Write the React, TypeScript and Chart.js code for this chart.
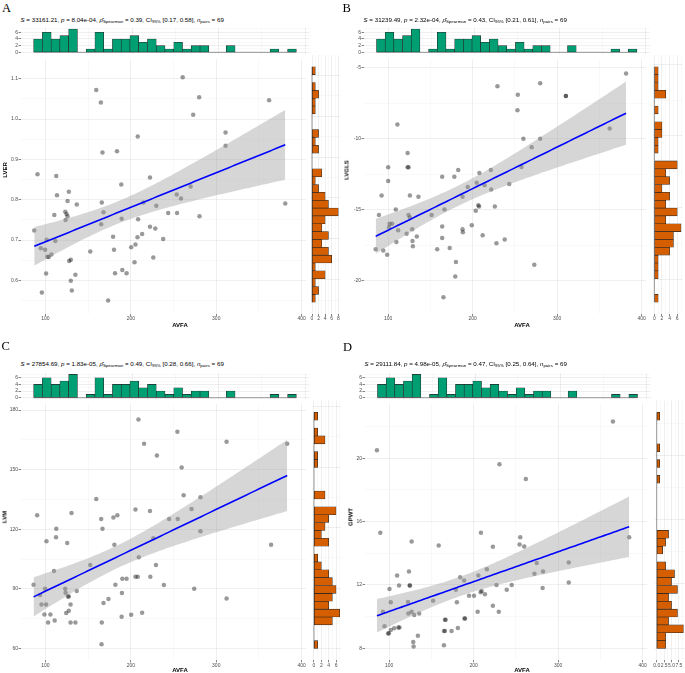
import React, { useEffect, useRef } from "react";
import { Chart, registerables } from "chart.js";
Chart.register(...registerables);

const FONT = "'Liberation Sans', Arial, sans-serif";

// ---------------- shared AVFA marginal histogram ----------------
const AVFA_BIN_START = 86.0;
const AVFA_BIN_WIDTH = 10.13;
const AVFA_COUNTS = [4, 6, 4, 5, 7, 0, 1, 6, 1, 4, 4, 5, 3, 4, 2, 1, 3, 1, 2, 2, 0, 0, 2, 0, 0, 0, 0, 1, 0, 1];
const AVFA_TICKS = [100, 200, 300, 400];
const AVFA_COUNT_TICKS = [0, 2, 4, 6];

// ---------------- Panel A: LVER ----------------
const A_AVFA = [86.9, 90.7, 94.6, 95.8, 99.6, 100.8, 101.5, 102.3, 103.9, 107.0, 110.4, 111.6, 112.7, 113.5, 123.2, 123.6, 124.7, 125.9, 125.9, 127.4, 127.8, 129.7, 129.7, 130.9, 135.1, 136.7, 152.5, 159.5, 164.9, 165.3, 166.0, 166.8, 168.0, 173.4, 179.2, 180.3, 181.5, 183.8, 188.8, 189.2, 190.0, 195.0, 200.4, 204.3, 205.4, 207.8, 208.1, 208.5, 213.2, 214.7, 222.4, 222.4, 226.3, 228.6, 229.8, 237.9, 243.7, 253.7, 254.1, 258.7, 260.7, 270.0, 273.0, 280.0, 280.4, 310.9, 310.9, 361.9, 380.8];
const A_LVER = [0.724, 0.863, 0.680, 0.570, 0.676, 0.617, 0.701, 0.659, 0.658, 0.664, 0.762, 0.698, 0.859, 0.811, 0.770, 0.750, 0.765, 0.797, 0.759, 0.820, 0.648, 0.651, 0.599, 0.575, 0.614, 0.788, 0.672, 1.072, 1.041, 0.739, 0.793, 0.917, 0.769, 0.550, 0.708, 0.676, 0.618, 0.920, 0.838, 0.753, 0.626, 0.618, 0.682, 0.645, 0.689, 0.707, 0.957, 0.752, 0.715, 0.793, 0.855, 0.733, 0.657, 0.729, 0.785, 0.703, 0.767, 0.813, 0.767, 0.803, 1.104, 0.833, 1.011, 1.054, 0.759, 0.967, 0.934, 1.047, 0.791];
const A_BIN_START = 0.5455;
const A_BIN_WIDTH = 0.01916;
const A_COUNTS = [1, 2, 1, 4, 1, 6, 5, 3, 5, 3, 4, 8, 5, 4, 2, 1, 3, 0, 0, 2, 1, 2, 0, 0, 1, 1, 2, 1, 0, 1];
const A_TICKS = [0.6, 0.7, 0.8, 0.9, 1.0, 1.1];
const A_COUNT_TICKS = [0, 2, 4, 6, 8];
const A_STATS = ["33161.21", "8.04e-04", "0.39", "[0.17, 0.58]", "69"];

// ---------------- Panel B: LVGLS ----------------
const B_AVFA = [85.2, 89.1, 92.2, 94.2, 98.8, 100.0, 100.0, 101.6, 101.0, 104.7, 109.0, 109.7, 110.9, 111.8, 121.8, 123.0, 123.0, 124.1, 124.1, 125.7, 125.7, 128.4, 128.8, 129.2, 133.9, 135.8, 151.4, 158.0, 163.9, 163.9, 163.9, 165.4, 166.6, 172.8, 178.3, 179.4, 180.2, 182.9, 188.0, 188.0, 188.4, 194.2, 198.9, 203.6, 204.7, 206.7, 207.5, 207.9, 211.8, 214.1, 221.5, 221.9, 226.2, 228.1, 229.3, 237.9, 243.3, 253.0, 253.4, 257.7, 260.0, 269.8, 272.9, 279.9, 279.9, 310.3, 310.3, 362.1, 381.5];
const B_LVGLS = [-17.80, -15.39, -14.00, -17.89, -18.19, -12.01, -12.99, -16.00, -16.25, -16.00, -15.00, -17.29, -9.00, -16.45, -16.71, -11.00, -12.01, -12.01, -15.39, -14.00, -15.56, -16.39, -17.22, -17.59, -16.90, -14.10, -15.39, -17.80, -12.69, -16.20, -17.01, -21.18, -15.00, -17.71, -12.69, -19.72, -18.70, -12.20, -14.10, -16.39, -16.60, -13.40, -16.11, -15.09, -13.10, -14.70, -14.79, -12.41, -16.81, -13.29, -12.20, -13.59, -14.79, -17.38, -6.30, -17.11, -13.19, -7.99, -6.90, -11.99, -10.00, -10.60, -18.89, -6.09, -10.00, -6.99, -6.99, -9.28, -5.39];
const B_BIN_START = -21.55;
const B_BIN_WIDTH = 0.5453;
const B_COUNTS = [1, 0, 0, 1, 1, 1, 4, 5, 5, 7, 3, 6, 3, 4, 2, 4, 3, 6, 0, 1, 1, 2, 2, 0, 1, 0, 3, 1, 1, 1];
const B_TICKS = [-20, -15, -10, -5];
const B_COUNT_TICKS = [0, 2, 4, 6];
const B_STATS = ["31239.49", "2.32e-04", "0.43", "[0.21, 0.61]", "69"];

// ---------------- Panel C: LVM ----------------
const C_AVFA = [86.1, 90.3, 93.8, 95.4, 98.8, 99.6, 100.8, 101.2, 103.1, 105.8, 110.0, 110.8, 112.4, 112.7, 123.2, 123.6, 124.3, 125.5, 126.3, 127.4, 127.4, 129.4, 129.4, 130.5, 135.1, 136.7, 152.5, 159.5, 165.3, 166.0, 165.7, 166.8, 168.0, 173.8, 179.6, 180.7, 181.9, 184.2, 189.2, 189.6, 190.0, 195.0, 200.4, 205.4, 205.4, 208.1, 208.9, 209.3, 213.2, 215.5, 222.4, 222.8, 226.3, 229.4, 230.5, 238.7, 244.8, 254.9, 254.5, 259.5, 261.8, 271.1, 274.2, 281.5, 281.5, 312.1, 312.1, 364.2, 383.1];
const C_LVM = [92.1, 127.1, 87.0, 82.2, 77.2, 90.1, 82.2, 114.0, 73.1, 77.2, 99.1, 74.1, 116.0, 120.3, 90.1, 88.1, 77.9, 113.1, 86.2, 86.2, 79.0, 82.2, 73.1, 128.2, 73.1, 89.0, 102.1, 135.2, 125.2, 73.1, 62.2, 120.3, 83.0, 85.0, 125.9, 112.2, 92.1, 127.1, 76.1, 88.0, 95.1, 95.1, 77.1, 130.0, 96.1, 96.1, 175.2, 106.0, 78.0, 163.1, 129.2, 96.1, 115.5, 102.1, 157.2, 92.0, 125.2, 125.2, 169.1, 151.1, 137.2, 130.2, 90.1, 136.2, 119.1, 164.1, 85.2, 112.2, 163.1];
const C_BIN_START = 60.0;
const C_BIN_WIDTH = 3.906;
const C_COUNTS = [1, 0, 0, 5, 7, 4, 5, 6, 5, 4, 2, 1, 0, 4, 2, 3, 4, 6, 0, 3, 0, 0, 0, 1, 1, 0, 3, 1, 0, 1];
const C_TICKS = [60, 90, 120, 150, 180];
const C_COUNT_TICKS = [0, 2, 4, 6];
const C_STATS = ["27854.69", "1.83e-05", "0.49", "[0.28, 0.66]", "69"];

// ---------------- Panel D: GPWT ----------------
const D_AVFA = [85.5, 89.5, 92.6, 94.5, 98.8, 99.6, 100.4, 101.9, 101.9, 105.9, 109.4, 110.9, 111.7, 112.1, 122.3, 122.7, 123.4, 124.2, 124.6, 126.6, 126.6, 128.5, 128.9, 129.7, 134.0, 135.5, 152.0, 158.6, 164.8, 164.8, 166.0, 166.0, 166.8, 173.8, 178.9, 180.1, 181.3, 184.0, 188.7, 189.1, 189.8, 194.5, 200.4, 204.7, 205.5, 208.2, 208.6, 209.4, 213.3, 215.6, 222.7, 222.7, 227.0, 229.7, 230.5, 239.1, 245.0, 254.3, 255.1, 259.8, 261.7, 271.9, 274.6, 281.6, 282.0, 312.5, 312.5, 364.8, 384.0];
const D_GPWT = [20.50, 15.30, 10.31, 9.39, 8.93, 8.95, 11.74, 9.16, 10.91, 9.27, 12.60, 9.31, 11.97, 9.31, 10.93, 10.20, 12.85, 11.97, 11.97, 14.74, 10.31, 8.40, 8.12, 10.10, 8.79, 10.20, 11.00, 14.49, 8.19, 9.10, 9.10, 9.81, 9.81, 9.10, 11.70, 10.91, 9.29, 12.49, 12.28, 9.89, 9.89, 11.31, 11.31, 10.31, 12.60, 11.54, 15.30, 11.62, 11.41, 12.99, 14.41, 10.68, 11.99, 10.31, 19.61, 11.70, 11.99, 14.55, 15.01, 14.43, 18.69, 12.70, 13.39, 11.81, 12.85, 13.41, 12.16, 22.31, 15.01];
const D_BIN_START = 7.98;
const D_BIN_WIDTH = 0.49;
const D_COUNTS = [3, 3, 9, 4, 7, 5, 4, 7, 5, 6, 3, 0, 2, 3, 4, 0, 0, 0, 0, 0, 0, 1, 0, 1, 0, 1, 0, 0, 0, 1];
const D_TICKS = [8, 12, 16, 20];
const D_COUNT_TICKS = [0, 2.5, 5, 7.5];
const D_STATS = ["29111.84", "4.98e-05", "0.47", "[0.25, 0.64]", "69"];

// ---------------- layout (page pixels) ----------------
type Rect = { l: number; r: number; t: number; b: number };
const LAYOUT: Record<string, any> = {
  A: { main: { l: 20.5, r: 309.5, t: 55, b: 314 }, top: { t: 27.8, b: 53.5 }, right: { l: 310.7, r: 339.6 }, letter: [2, 2.4], sub: [20.5, 20], xTitle: [180, 325], yTitle: [5.3, 170] },
  B: { main: { l: 363.5, r: 650, t: 55, b: 314 }, top: { t: 27.8, b: 53.5 }, right: { l: 653, r: 682.4 }, letter: [342.5, 2.4], sub: [363.5, 20], xTitle: [522, 324.5], yTitle: [346.5, 170] },
  C: { main: { l: 20.5, r: 309.5, t: 400.5, b: 660.3 }, top: { t: 373.2, b: 398.9 }, right: { l: 312.7, r: 341 }, letter: [1.5, 339.6], sub: [20.5, 364.3], xTitle: [180, 669.5], yTitle: [4.5, 516.7] },
  D: { main: { l: 364.5, r: 650.5, t: 400.5, b: 660.3 }, top: { t: 373.2, b: 398.9 }, right: { l: 655.4, r: 684.7 }, letter: [343, 340.6], sub: [364.5, 364.3], xTitle: [522, 669.5], yTitle: [350.5, 517] },
};

const PANELS = [
  { key: "A", xs: A_AVFA, ys: A_LVER, yTitle: "LVER", binStart: A_BIN_START, binWidth: A_BIN_WIDTH, counts: A_COUNTS, yTicks: A_TICKS, yDec: 1, countTicks: A_COUNT_TICKS, countDec: 0, stats: A_STATS },
  { key: "B", xs: B_AVFA, ys: B_LVGLS, yTitle: "LVGLS", binStart: B_BIN_START, binWidth: B_BIN_WIDTH, counts: B_COUNTS, yTicks: B_TICKS, yDec: 0, countTicks: B_COUNT_TICKS, countDec: 0, stats: B_STATS },
  { key: "C", xs: C_AVFA, ys: C_LVM, yTitle: "LVM", binStart: C_BIN_START, binWidth: C_BIN_WIDTH, counts: C_COUNTS, yTicks: C_TICKS, yDec: 0, countTicks: C_COUNT_TICKS, countDec: 0, stats: C_STATS },
  { key: "D", xs: D_AVFA, ys: D_GPWT, yTitle: "GPWT", binStart: D_BIN_START, binWidth: D_BIN_WIDTH, counts: D_COUNTS, yTicks: D_TICKS, yDec: 0, countTicks: D_COUNT_TICKS, countDec: 1, stats: D_STATS },
];

const MAJOR = "rgba(0,0,0,0.09)";
const MINOR = "rgba(0,0,0,0.05)";

function expandRange(start: number, width: number, n: number): [number, number] {
  const end = start + width * n;
  const pad = (end - start) * 0.05;
  return [start - pad, end + pad];
}

function buildTicks(majors: number[], min: number, max: number) {
  const step = majors[1] - majors[0];
  const out: any[] = [];
  for (let k = -4; k <= majors.length * 2 + 4; k++) {
    const v = majors[0] + (k * step) / 2;
    if (v >= min - 1e-9 && v <= max + 1e-9) out.push({ value: v, major: k % 2 === 0 });
  }
  return out;
}

function axis(o: { min: number; max: number; majors: number[]; dec: number; labels: boolean; size: number; horiz: boolean }) {
  return {
    type: "linear",
    min: o.min,
    max: o.max,
    offset: false,
    afterBuildTicks: (s: any) => {
      s.ticks = buildTicks(o.majors, o.min, o.max);
    },
    afterFit: (s: any) => {
      if (o.horiz) s.height = o.size;
      else s.width = o.size;
      s.paddingLeft = 0;
      s.paddingRight = 0;
      s.paddingTop = 0;
      s.paddingBottom = 0;
    },
    ticks: {
      display: o.labels,
      autoSkip: false,
      maxRotation: 0,
      minRotation: 0,
      padding: 0.5,
      color: "#4d4d4d",
      font: { size: 5, family: FONT, lineHeight: 1 },
      callback: (v: number, i: number, ticks: any[]) => (ticks[i] && ticks[i].major ? Number(v).toFixed(o.dec) : ""),
    },
    grid: {
      offset: false,
      color: (c: any) => (c.tick && c.tick.major ? MAJOR : MINOR),
      lineWidth: (c: any) => (c.tick && c.tick.major ? 0.7 : 0.5),
      drawTicks: o.labels,
      tickLength: 2,
      tickWidth: 0.6,
      tickColor: (c: any) => (c.tick && c.tick.major ? "#333333" : "rgba(0,0,0,0)"),
    },
    border: { display: false },
  };
}

function linearFit(xs: number[], ys: number[]) {
  const n = xs.length;
  const mx = xs.reduce((a, b) => a + b, 0) / n;
  const my = ys.reduce((a, b) => a + b, 0) / n;
  let sxx = 0, sxy = 0;
  for (let i = 0; i < n; i++) {
    sxx += (xs[i] - mx) ** 2;
    sxy += (xs[i] - mx) * (ys[i] - my);
  }
  const b = sxy / sxx;
  const a = my - b * mx;
  let sse = 0;
  for (let i = 0; i < n; i++) sse += (ys[i] - a - b * xs[i]) ** 2;
  const s = Math.sqrt(sse / (n - 2));
  const t = 1.996;
  const lo = Math.min(...xs), hi = Math.max(...xs);
  const line: any[] = [], upper: any[] = [], lower: any[] = [];
  const N = 80;
  for (let k = 0; k <= N; k++) {
    const x = lo + ((hi - lo) * k) / N;
    const yh = a + b * x;
    const se = s * Math.sqrt(1 / n + (x - mx) ** 2 / sxx);
    line.push({ x, y: yh });
    upper.push({ x, y: yh + t * se });
    lower.push({ x, y: yh - t * se });
  }
  return { line, upper, lower };
}

function baselinePlugin(horizontal: boolean, start: number, end: number) {
  return {
    id: "baseline",
    beforeDatasetsDraw(chart: any) {
      const { ctx } = chart;
      const sx = chart.scales.x, sy = chart.scales.y;
      ctx.save();
      ctx.strokeStyle = "#555555";
      ctx.lineWidth = 0.6;
      ctx.beginPath();
      if (horizontal) {
        const y = sy.getPixelForValue(0);
        ctx.moveTo(sx.getPixelForValue(start), y);
        ctx.lineTo(sx.getPixelForValue(end), y);
      } else {
        const x = sx.getPixelForValue(0);
        ctx.moveTo(x, sy.getPixelForValue(start));
        ctx.lineTo(x, sy.getPixelForValue(end));
      }
      ctx.stroke();
      ctx.restore();
    },
  };
}

function ChartBox({ area, mL, mB, build }: { area: Rect; mL: number; mB: number; build: (g: any) => any }) {
  const ref = useRef<HTMLCanvasElement>(null);
  const left = Math.floor(area.l - mL);
  const top = Math.floor(area.t);
  const right = Math.ceil(area.r);
  const bottom = Math.ceil(area.b + mB);
  const w = right - left;
  const h = bottom - top;
  useEffect(() => {
    const cfg = build({
      yW: area.l - left,
      xH: mB,
      padding: { left: 0, top: area.t - top, right: right - area.r, bottom: bottom - area.b - mB },
    });
    const chart = new Chart(ref.current as HTMLCanvasElement, cfg);
    return () => chart.destroy();
  }, []);
  return <canvas ref={ref} width={w} height={h} style={{ position: "absolute", left, top, width: w, height: h }} />;
}

const BASE_OPTS = {
  responsive: false,
  maintainAspectRatio: false,
  animation: false,
  events: [],
  plugins: { legend: { display: false }, tooltip: { enabled: false } },
};

function Panel({ p }: { p: any }) {
  const L = LAYOUT[p.key];
  const nb = AVFA_COUNTS.length;
  const [xMin, xMax] = expandRange(AVFA_BIN_START, AVFA_BIN_WIDTH, nb);
  const [yMin, yMax] = expandRange(p.binStart, p.binWidth, p.counts.length);
  const topMax = Math.max(...AVFA_COUNTS);
  const rMax = Math.max(...p.counts);
  const fit = linearFit(p.xs, p.ys);
  const pts = p.xs.map((x: number, i: number) => ({ x, y: p.ys[i] }));

  const mainArea: Rect = L.main;
  const topArea: Rect = { l: L.main.l, r: L.main.r, t: L.top.t, b: L.top.b };
  const rightArea: Rect = { l: L.right.l, r: L.right.r, t: L.main.t, b: L.main.b };

  const buildMain = (g: any) => ({
    type: "scatter",
    data: {
      datasets: [
        { type: "scatter", data: pts, backgroundColor: "rgba(0,0,0,0.4)", borderWidth: 0, pointRadius: 2.25, order: 3 },
        { type: "line", data: fit.upper, borderColor: "rgba(0,0,0,0)", borderWidth: 0, pointRadius: 0, fill: false, order: 2 },
        { type: "line", data: fit.lower, borderColor: "rgba(0,0,0,0)", borderWidth: 0, pointRadius: 0, fill: "-1", backgroundColor: "rgba(153,153,153,0.4)", order: 2 },
        { type: "line", data: fit.line, borderColor: "#0000ff", borderWidth: 1.6, pointRadius: 0, fill: false, order: 1 },
      ],
    },
    options: {
      ...BASE_OPTS,
      layout: { padding: g.padding },
      scales: {
        x: axis({ min: xMin, max: xMax, majors: AVFA_TICKS, dec: 0, labels: true, size: g.xH, horiz: true }),
        y: axis({ min: yMin, max: yMax, majors: p.yTicks, dec: p.yDec, labels: true, size: g.yW, horiz: false }),
      },
    },
  });

  const buildTop = (g: any) => ({
    type: "bar",
    data: {
      datasets: [
        {
          data: AVFA_COUNTS.map((c, i) => ({ x: AVFA_BIN_START + (i + 0.5) * AVFA_BIN_WIDTH, y: c })),
          backgroundColor: "#009E73",
          borderColor: "#262626",
          borderWidth: 0.6,
          borderSkipped: false,
          barPercentage: 1,
          categoryPercentage: 1,
        },
      ],
    },
    options: {
      ...BASE_OPTS,
      layout: { padding: g.padding },
      scales: {
        x: axis({ min: xMin, max: xMax, majors: AVFA_TICKS, dec: 0, labels: false, size: 0, horiz: true }),
        y: axis({ min: -0.05 * topMax, max: 1.05 * topMax, majors: AVFA_COUNT_TICKS, dec: 0, labels: true, size: g.yW, horiz: false }),
      },
    },
    plugins: [baselinePlugin(true, AVFA_BIN_START, AVFA_BIN_START + nb * AVFA_BIN_WIDTH)],
  });

  const buildRight = (g: any) => ({
    type: "bar",
    data: {
      datasets: [
        {
          data: p.counts.map((c: number, i: number) => ({ x: c, y: p.binStart + (i + 0.5) * p.binWidth })),
          backgroundColor: "#D55E00",
          borderColor: "#262626",
          borderWidth: 0.6,
          borderSkipped: false,
          barPercentage: 1,
          categoryPercentage: 1,
        },
      ],
    },
    options: {
      ...BASE_OPTS,
      indexAxis: "y",
      layout: { padding: g.padding },
      scales: {
        x: axis({ min: -0.05 * rMax, max: 1.05 * rMax, majors: p.countTicks, dec: p.countDec, labels: true, size: g.xH, horiz: true }),
        y: axis({ min: yMin, max: yMax, majors: p.yTicks, dec: 0, labels: false, size: g.yW, horiz: false }),
      },
    },
    plugins: [baselinePlugin(false, p.binStart, p.binStart + p.counts.length * p.binWidth)],
  });

  const subStyle: React.CSSProperties = { fontSize: "4.4px", verticalAlign: "-1px", lineHeight: 0 };
  const s = p.stats;
  return (
    <>
      <div style={{ position: "absolute", left: L.letter[0], top: L.letter[1], fontFamily: "'Liberation Serif', 'Times New Roman', serif", fontSize: 12.5, lineHeight: "12.5px", color: "#000" }}>{p.key}</div>
      <div style={{ position: "absolute", left: L.sub[0], top: L.sub[1] - 5, height: 10, lineHeight: "10px", fontFamily: FONT, fontSize: 6.2, whiteSpace: "nowrap", color: "#000" }}>
        <i>S</i> = {s[0]}, <i>p</i> = {s[1]}, <i>{"\u03C1\u0302"}</i>
        <sub style={subStyle}>Spearman</sub> = {s[2]}, CI<sub style={subStyle}>95%</sub> {s[3]}, <i>n</i>
        <sub style={subStyle}>pairs</sub> = {s[4]}
      </div>
      <ChartBox area={topArea} mL={14} mB={0} build={buildTop} />
      <ChartBox area={mainArea} mL={mainArea.l - L.yTitle[0] - 1} mB={9} build={buildMain} />
      <ChartBox area={rightArea} mL={4} mB={9} build={buildRight} />
      <div style={{ position: "absolute", left: L.xTitle[0], top: L.xTitle[1], transform: "translate(-50%, -50%)", fontFamily: FONT, fontWeight: "bold", fontSize: 6, lineHeight: "7px", whiteSpace: "nowrap", color: "#000" }}>AVFA</div>
      <div style={{ position: "absolute", left: L.yTitle[0], top: L.yTitle[1], transform: "translate(-50%, -50%) rotate(-90deg)", fontFamily: FONT, fontWeight: "bold", fontSize: 6, lineHeight: "7px", whiteSpace: "nowrap", color: "#000" }}>{p.yTitle}</div>
    </>
  );
}

export default function App() {
  return (
    <div style={{ position: "fixed", left: 0, top: 0, width: 685, height: 673, background: "#ffffff", overflow: "hidden" }}>
      {PANELS.map((p) => (
        <Panel key={p.key} p={p} />
      ))}
    </div>
  );
}
